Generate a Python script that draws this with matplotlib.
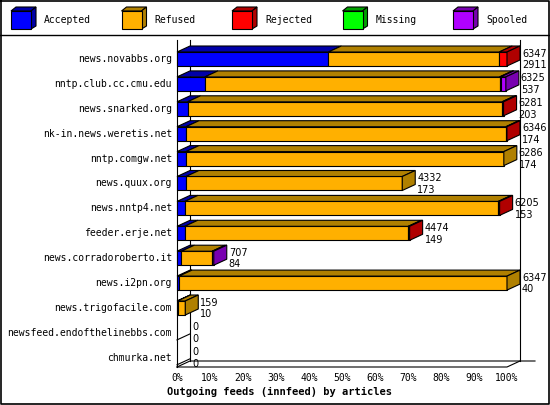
import matplotlib.pyplot as plt
from matplotlib.patches import Polygon, Rectangle

# feeds (innfeed) by articles
feeds = ['news.novabbs.org', 'nntp.club.cc.cmu.edu', 'news.snarked.org', 'nk-in.news.weretis.net',
         'nntp.comgw.net', 'news.quux.org', 'news.nntp4.net', 'feeder.erje.net',
         'news.corradoroberto.it', 'news.i2pn.org', 'news.trigofacile.com',
         'newsfeed.endofthelinebbs.com', 'chmurka.net']
total = [6347, 6325, 6281, 6346, 6286, 4332, 6205, 4474, 707, 6347, 159, 0, 0]
accepted = [2911, 537, 203, 174, 174, 173, 153, 149, 84, 40, 10, 0, 0]
rejected = [150, 20, 30, 20, 0, 0, 25, 25, 0, 0, 0, 0, 0]
missing = [0] * 13
spooled = [0, 100, 0, 0, 0, 0, 0, 0, 30, 0, 0, 0, 0]
refused = [t - a - r - m - s for t, a, r, m, s in zip(total, accepted, rejected, missing, spooled)]

series = ['Accepted', 'Refused', 'Rejected', 'Missing', 'Spooled']
front_cols = ['#0000ff', '#ffb000', '#ff0000', '#00ff00', '#b000ff']
dark_cols = ['#0000a8', '#b08000', '#b00000', '#00a000', '#7800b0']
ticks = list(range(0, 101, 10))

W, H = 550, 405
PXX = 3.3      # px per percent
PXY = 24.9     # px per row
X0, Y0 = 177, 59
dx = 13 / PXX
dy = 6 / PXY


def row(ypx):
    return (ypx - Y0) / PXY


fig = plt.figure(figsize=(W / 100, H / 100), dpi=100)
ax = fig.add_axes([0, 0, 1, 1])
ax.set_xlim(-X0 / PXX, (W - X0) / PXX)
ax.set_ylim(row(H), row(0))
ax.axis('off')

mono = 'DejaVu Sans Mono'
lw = 0.8

# frame
ax.plot([0, 0], [row(40), row(367)], color='k', lw=lw)
ax.plot([dx, dx], [row(40), row(361)], color='k', lw=lw)
ax.plot([100 + dx, 100 + dx], [row(40), row(361)], color='k', lw=lw)
ax.plot([0, 100, 100 + dx], [row(367), row(367), row(361)], color='k', lw=lw)
ax.plot([0, dx, (535 - X0) / PXX], [row(367), row(361), row(361)], color='k', lw=lw)
for t in ticks:
    ax.text(t, row(378), f'{t}%', ha='center', va='center', fontsize=7, family=mono)
ax.text(31, row(392), 'Outgoing feeds (innfeed) by articles', ha='center', va='center',
        fontsize=7.5, family=mono, weight='bold')

vmax = max(total)
cols = [accepted, refused, rejected, missing, spooled]
for i, name in enumerate(feeds):
    yt, yb = i - 7 / PXY, i + 7 / PXY
    ax.text(-5 / PXX, i, name, ha='right', va='center', fontsize=7, family=mono)
    x = 0.0
    last = None
    for k, vals in enumerate(cols):
        if vals[i] <= 0:
            continue
        w = vals[i] / vmax * 100
        ax.add_patch(Rectangle((x, yt), w, yb - yt, fc=front_cols[k], ec='k', lw=lw, zorder=3))
        ax.add_patch(Polygon([(x, yt), (x + w, yt), (x + w + dx, yt - dy), (x + dx, yt - dy)],
                             fc=dark_cols[k], ec='k', lw=lw, zorder=3))
        x += w
        last = k
    if last is not None:
        ax.add_patch(Polygon([(x, yt), (x + dx, yt - dy), (x + dx, yb - dy), (x, yb)],
                             fc=dark_cols[last], ec='k', lw=lw, zorder=3))
    else:
        ax.plot([0, dx], [yb, yb - dy], color='k', lw=lw)
    ax.text(x + dx + 0.6, i - 0.22, str(total[i]), ha='left', va='center', fontsize=7)
    ax.text(x + dx + 0.6, i + 0.25, str(accepted[i]), ha='left', va='center', fontsize=7)

# legend in pixel coordinates
lax = fig.add_axes([0, 0, 1, 1])
lax.set_xlim(0, W)
lax.set_ylim(H, 0)
lax.axis('off')
lax.patch.set_alpha(0)
lax.plot([1, W - 1, W - 1, 1, 1], [1, 1, H - 1, H - 1, 1], color='k', lw=1.2)
lax.plot([0, W], [35, 35], color='k', lw=1)
for k, name in enumerate(series):
    bx = 11 + k * 110.5
    lax.add_patch(Polygon([(bx, 11), (bx + 20, 11), (bx + 25, 7), (bx + 5, 7)], fc=dark_cols[k], ec='k', lw=lw))
    lax.add_patch(Polygon([(bx + 20, 11), (bx + 25, 7), (bx + 25, 26), (bx + 20, 29)], fc=dark_cols[k], ec='k', lw=lw))
    lax.add_patch(Rectangle((bx, 11), 20, 18, fc=front_cols[k], ec='k', lw=lw))
    lax.text(bx + 33, 20, name, ha='left', va='center', fontsize=7, family=mono)

fig.savefig('out.png', dpi=100)
